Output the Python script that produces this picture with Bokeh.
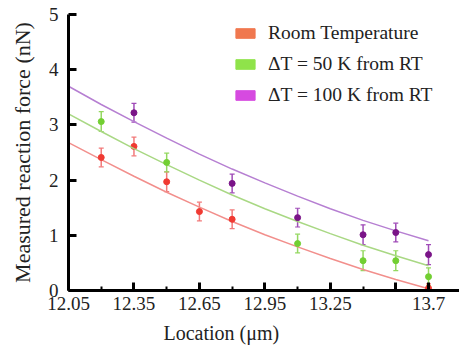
from bokeh.plotting import figure
from bokeh.models import (ColumnDataSource, Whisker, TeeHead, FixedTicker,
                          Legend, LegendItem, Range1d, Title)
from bokeh.embed import file_html
from bokeh.resources import INLINE

# ---- data ----
x_rt = [12.2, 12.35, 12.5, 12.65, 12.8, 13.7]
y_rt = [2.41, 2.61, 1.97, 1.43, 1.29, 0.04]
e_rt = [0.17, 0.17, 0.18, 0.17, 0.17, 0.08]

x_50 = [12.2, 12.5, 13.1, 13.4, 13.55, 13.7]
y_50 = [3.06, 2.32, 0.85, 0.54, 0.54, 0.25]
e_50 = [0.18, 0.17, 0.17, 0.18, 0.18, 0.16]

x_100 = [12.35, 12.8, 13.1, 13.4, 13.55, 13.7]
y_100 = [3.22, 1.94, 1.32, 1.01, 1.05, 0.65]
e_100 = [0.17, 0.17, 0.17, 0.18, 0.17, 0.18]

fit_x = [12.05, 12.2, 12.35, 12.5, 12.65, 12.8, 12.95, 13.1, 13.25, 13.4, 13.55, 13.7]
fit_rt = [2.68, 2.37, 2.07, 1.78, 1.51, 1.25, 1.01, 0.79, 0.58, 0.38, 0.20, 0.03]
fit_50 = [3.20, 2.88, 2.57, 2.28, 2.00, 1.73, 1.48, 1.25, 1.03, 0.82, 0.63, 0.45]
fit_100 = [3.70, 3.37, 3.06, 2.76, 2.47, 2.20, 1.95, 1.71, 1.48, 1.27, 1.08, 0.90]

x_ticks = [12.05, 12.35, 12.65, 12.95, 13.25, 13.55, 13.7]
x_tick_labels = ["12.05", "12.35", "12.65", "12.95", "13.25", "", "13.7"]
x_minor = [12.2, 12.5, 12.8, 13.1, 13.4]
y_ticks = [0, 1, 2, 3, 4, 5]

labels = ["Room Temperature", "\u0394T = 50 K from RT", "\u0394T = 100 K from RT"]

FONT = "Liberation Serif"

p = figure(width=459, height=350, output_backend="svg", toolbar_location=None,
           x_range=Range1d(12.05, 13.842), y_range=Range1d(0, 5),
           min_border_left=68, min_border_right=0, min_border_top=14,
           min_border_bottom=60)
p.outline_line_color = None
p.grid.visible = False
p.background_fill_color = "white"
p.border_fill_color = "white"

series = [
    (x_rt, y_rt, e_rt, fit_rt, "#f28f8c", "#f03a32", "#f27a7a", "#f0784f"),
    (x_50, y_50, e_50, fit_50, "#a9d884", "#72cf32", "#94d860", "#8fe34a"),
    (x_100, y_100, e_100, fit_100, "#b67fd2", "#7a1488", "#a04cb8", "#d64ae0"),
]

legend_items = []
for (xs, ys, es, fit, lc, pc, ec, legc), lab in zip(series, labels):
    p.line(fit_x, fit, line_color=lc, line_width=1.5)
    src = ColumnDataSource(dict(x=xs, up=[a + b for a, b in zip(ys, es)],
                                lo=[a - b for a, b in zip(ys, es)]))
    w = Whisker(source=src, base="x", upper="up", lower="lo",
                line_color=ec, line_width=1.5,
                upper_head=TeeHead(size=5, line_color=ec, line_width=1.2),
                lower_head=TeeHead(size=5, line_color=ec, line_width=1.2))
    p.add_layout(w)
    p.scatter(xs, ys, size=6, fill_color=pc, line_color=pc)
    # legend swatch renderer: a zero-size quad placed off the visible range
    r = p.quad(left=[xs[0]], right=[xs[0]], top=[-1.0], bottom=[-1.0],
               fill_color=legc, line_color=legc)
    legend_items.append(LegendItem(label=lab, renderers=[r]))

leg = Legend(items=legend_items, location=(165, 184), padding=0, margin=0,
             spacing=9, glyph_width=24, glyph_height=12, label_height=22,
             label_standoff=11, border_line_color=None,
             background_fill_alpha=0, label_text_font=FONT,
             label_text_font_size="19.5px", label_text_color="#222222")
p.add_layout(leg)

for ax in (p.xaxis[0], p.yaxis[0]):
    ax.axis_line_width = 3
    ax.axis_line_color = "black"
    ax.major_tick_line_width = 3
    ax.major_tick_in = 8
    ax.major_tick_out = 0
    ax.major_label_text_font = FONT
    ax.major_label_text_font_size = "19px"
    ax.major_label_text_color = "#222222"
    ax.axis_label_text_font = FONT
    ax.axis_label_text_font_style = "normal"
    ax.axis_label_text_color = "#222222"

p.xaxis.ticker = FixedTicker(ticks=x_ticks, minor_ticks=x_minor)
p.xaxis.major_label_overrides = {t: l for t, l in zip(x_ticks, x_tick_labels)}
p.xaxis.minor_tick_in = 4
p.xaxis.minor_tick_out = 0
p.xaxis.minor_tick_line_width = 2
p.xaxis.major_label_standoff = 6

xt = Title(text="Location (\u03bcm)", align="left", offset=95,
           text_font=FONT, text_font_size="20px", text_font_style="normal",
           text_color="#222222", standoff=14)
p.add_layout(xt, "below")

p.yaxis.ticker = FixedTicker(ticks=y_ticks, minor_ticks=[])
p.yaxis.minor_tick_line_color = None
p.yaxis.major_label_standoff = 10
p.yaxis.axis_label = "Measured reaction force (nN)"
p.yaxis.axis_label_text_font_size = "22px"
p.yaxis.axis_label_standoff = 11

open("out.html", "w").write(file_html(p, INLINE))
